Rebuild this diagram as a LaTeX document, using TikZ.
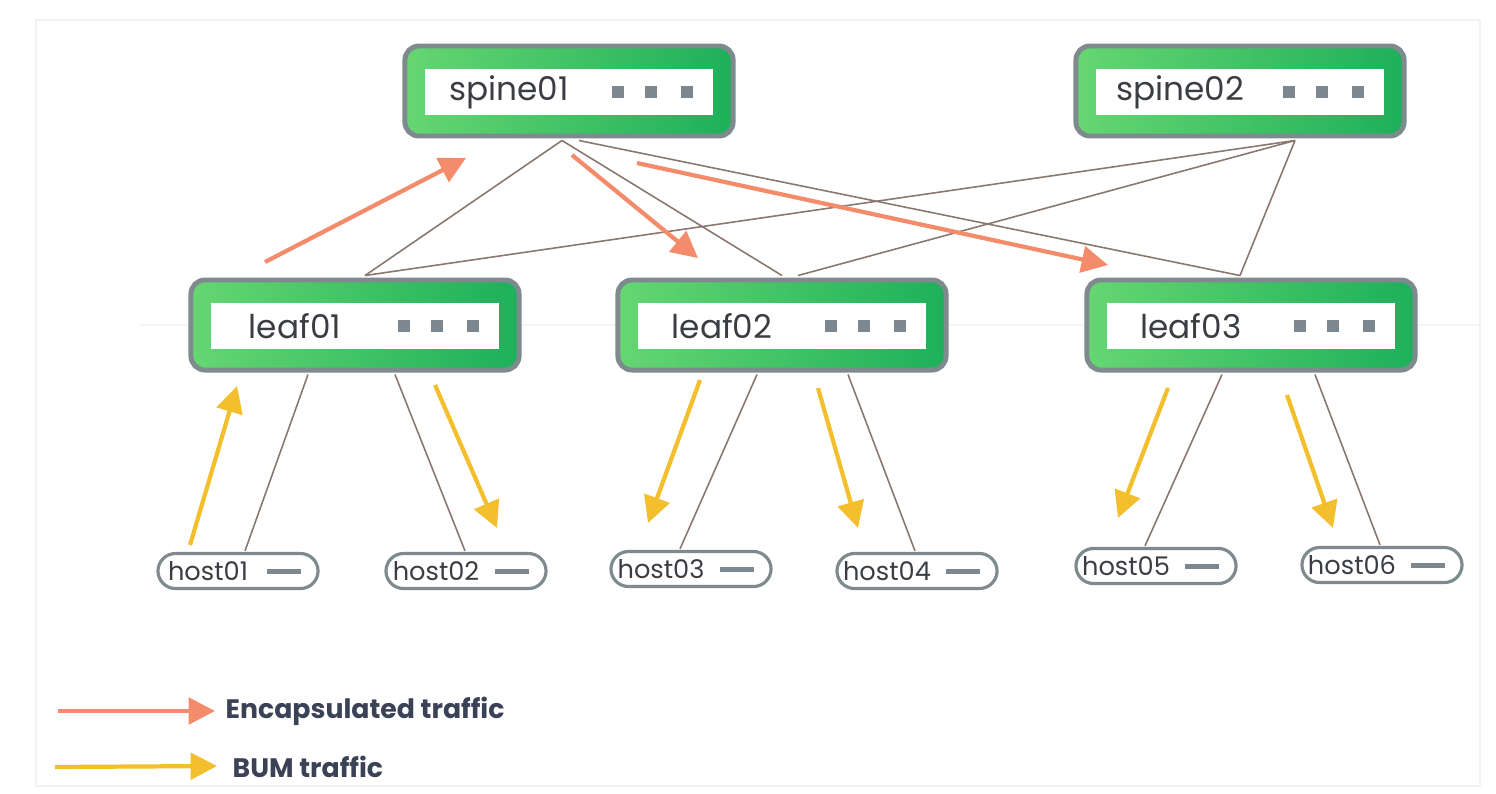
\documentclass[tikz,border=0pt]{standalone}
\usepackage{fontspec}
\setmainfont{Poppins}
\usetikzlibrary{arrows.meta,calc}
\definecolor{gLeft}{HTML}{66D672}
\definecolor{gRight}{HTML}{1DB05A}
\definecolor{boxBorder}{HTML}{7E8A8E}
\definecolor{txt}{HTML}{3A3D42}
\definecolor{sqc}{HTML}{7D8790}
\definecolor{linkc}{HTML}{8A7770}
\definecolor{enc}{HTML}{F48C6C}
\definecolor{bum}{HTML}{F3BF2C}
\definecolor{legtxt}{HTML}{3B4256}
\tikzset{
  swout/.style={rectangle, rounded corners=4pt, draw=boxBorder, line width=1.4pt,
    left color=gLeft, right color=gRight, minimum width=3.28cm, minimum height=0.9cm, inner sep=0pt},
  swin/.style={rectangle, fill=white, minimum width=2.88cm, minimum height=0.46cm, inner sep=0pt},
  swtxt/.style={text=txt, font=\fontsize{9.3}{10}\selectfont, inner sep=0pt},
  sqbox/.style={rectangle, fill=sqc, minimum size=0.12cm, inner sep=0pt},
  hostbox/.style={rectangle, rounded corners=5pt, draw=boxBorder, line width=0.9pt, fill=white,
    minimum width=1.6cm, minimum height=0.35cm, inner sep=0pt},
  hosttxt/.style={text=txt, font=\fontsize{7.3}{8}\selectfont, inner sep=0pt},
  dashbox/.style={rectangle, fill=sqc, minimum width=0.34cm, minimum height=0.05cm, inner sep=0pt},
  linkline/.style={draw=linkc, line width=0.45pt},
  encarrow/.style={draw=enc, line width=1.2pt, -{Triangle[length=7.5pt,width=7.5pt]}},
  bumarrow/.style={draw=bum, line width=1.2pt, -{Triangle[length=7.5pt,width=7.5pt]}},
  legtext/.style={text=legtxt, font=\bfseries\fontsize{7.6}{9}\selectfont, anchor=west, inner sep=0pt},
}
\newcommand\swnode[4]{%
  \node[swout] (#1) at (#2,#3) {};
  \node[swin] (#1in) at (#2,#3+1) {};
  \node[swtxt] (#1t) at ($(#1)+(-60,1)$) {#4};
  \node[sqbox] (#1s1) at ($(#1)+(49,1)$) {};
  \node[sqbox] (#1s2) at ($(#1)+(82,1)$) {};
  \node[sqbox] (#1s3) at ($(#1)+(118,1)$) {};
}
\newcommand\hostnode[4]{%
  \node[hostbox] (#1) at (#2,#3) {};
  \node[hosttxt] (#1t) at ($(#1)+(-30,0)$) {#4};
  \node[dashbox] (#1d) at ($(#1)+(46,0)$) {};
}
\begin{document}
\begin{tikzpicture}[x=0.01cm,y=-0.01cm]
\useasboundingbox (0,0) rectangle (1496,793);
\fill[white] (0,0) rectangle (1496,793);
\draw[gray!10, line width=0.6pt] (36,20) rectangle (1480,786);
\draw[gray!8, line width=0.6pt] (140,325) -- (1480,325);

\swnode{spine01}{569}{91}{spine01}
\swnode{spine02}{1240}{91}{spine02}
\swnode{leaf01}{355}{325}{leaf01}
\swnode{leaf02}{782}{325}{leaf02}
\swnode{leaf03}{1251}{325}{leaf03}
\hostnode{host01}{238}{571}{host01}
\hostnode{host02}{466}{571}{host02}
\hostnode{host03}{691}{569}{host03}
\hostnode{host04}{917}{571}{host04}
\hostnode{host05}{1156}{566}{host05}
\hostnode{host06}{1382}{565}{host06}

% links
\path[linkline] ($(spine01.south)+(-7,2)$) -- ($(leaf01.north)+(10,-2)$);
\path[linkline] ($(spine01.south)+(-7,2)$) -- ($(leaf02.north)+(0,-2)$);
\path[linkline] ($(spine01.south)+(10,2)$) -- ($(leaf03.north)+(-11,-2)$);
\path[linkline] ($(spine02.south)+(55,2)$) -- ($(leaf01.north)+(10,-2)$);
\path[linkline] ($(spine02.south)+(55,2)$) -- ($(leaf02.north)+(16,-2)$);
\path[linkline] ($(spine02.south)+(55,2)$) -- ($(leaf03.north)+(-11,-2)$);
\path[linkline] ($(leaf01.south)+(-47,2)$) -- ($(host01.north)+(7,-1)$);
\path[linkline] ($(leaf01.south)+(40,2)$) -- ($(host02.north)+(-1,-1)$);
\path[linkline] ($(leaf02.south)+(-25,2)$) -- ($(host03.north)+(-11,-1)$);
\path[linkline] ($(leaf02.south)+(66,2)$) -- ($(host04.north)+(-2,-1)$);
\path[linkline] ($(leaf03.south)+(-29,2)$) -- ($(host05.north)+(-11,-1)$);
\path[linkline] ($(leaf03.south)+(64,2)$) -- ($(host06.north)+(-2,-1)$);

% encapsulated traffic arrows
\coordinate (e1s) at (265,262); \coordinate (e1e) at (466,158);
\coordinate (e2s) at (572,155); \coordinate (e2e) at (698,258);
\coordinate (e3s) at (637,163); \coordinate (e3e) at (1108,265);
\draw[encarrow] (e1s) -- (e1e);
\draw[encarrow] (e2s) -- (e2e);
\draw[encarrow] (e3s) -- (e3e);

% BUM arrows
\coordinate (b1s) at (190,545); \coordinate (b1e) at (237,386);
\coordinate (b2s) at (435,385); \coordinate (b2e) at (497,528);
\coordinate (b3s) at (700,380); \coordinate (b3e) at (648,523);
\coordinate (b4s) at (818,388); \coordinate (b4e) at (858,528);
\coordinate (b5s) at (1168,388); \coordinate (b5e) at (1118,518);
\coordinate (b6s) at (1287,395); \coordinate (b6e) at (1333,528);
\draw[bumarrow] (b1s) -- (b1e);
\draw[bumarrow] (b2s) -- (b2e);
\draw[bumarrow] (b3s) -- (b3e);
\draw[bumarrow] (b4s) -- (b4e);
\draw[bumarrow] (b5s) -- (b5e);
\draw[bumarrow] (b6s) -- (b6e);

% legend
\node[legtext] (legE) at (225,711) {Encapsulated traffic};
\node[legtext] (legB) at (232,767) {BUM traffic};
\coordinate (l1s) at (58,711);
\coordinate (l2s) at (55,767);
\draw[encarrow] (l1s) -- ($(legE.west)+(-10,0)$);
\draw[bumarrow] (l2s) -- ($(legB.west)+(-15,-1)$);
\end{tikzpicture}
\end{document}
